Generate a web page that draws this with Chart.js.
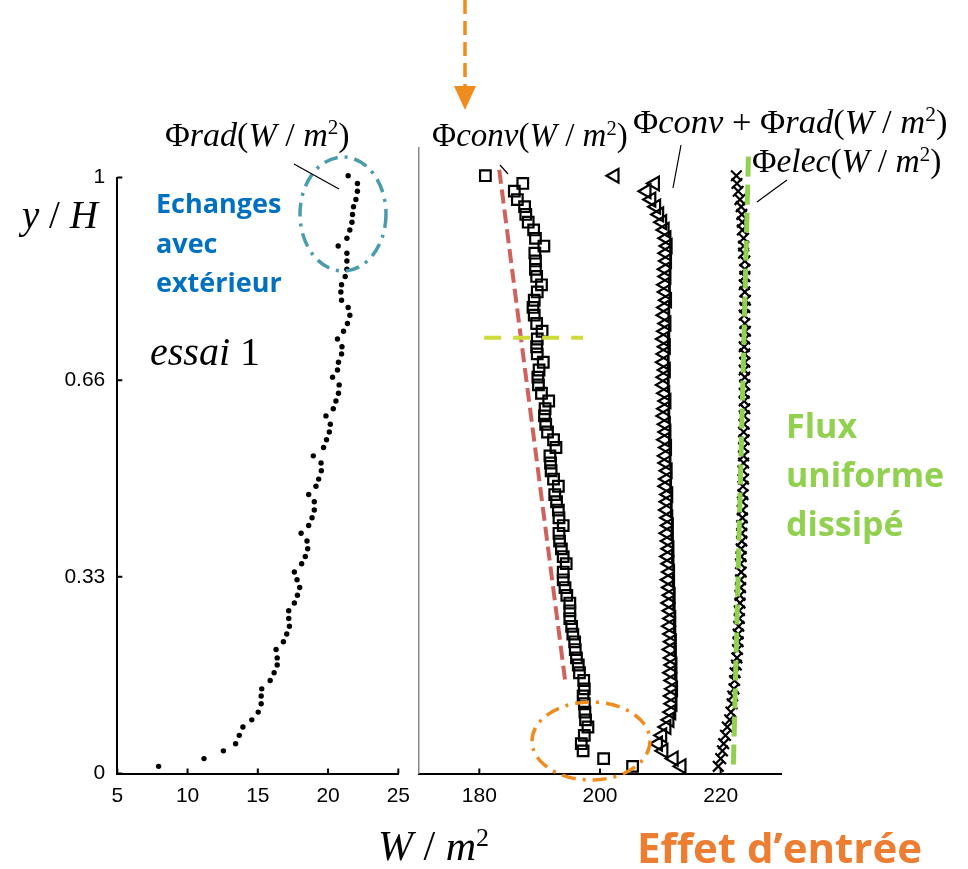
<!DOCTYPE html>
<html>
<head>
<meta charset="utf-8">
<script src="https://cdn.jsdelivr.net/npm/chart.js@4"></script>
<style>
  html, body { margin: 0; padding: 0; background: #fff; }
  #wrap { position: relative; width: 968px; height: 869px; overflow: hidden; background: #fff; }
  canvas.chart { position: absolute; top: 0; }
  #left { left: 0; }
  #right { left: 400px; }
  #marks { position: absolute; left: 0; top: 0; pointer-events: none; }
  .note { position: absolute; white-space: nowrap; line-height: 1; }
  .math { font-family: 'Liberation Serif', 'DejaVu Serif', serif; color: #000; }
  .math i { font-style: italic; }
  .math sup { font-size: 62%; vertical-align: 0; position: relative; top: -0.55em; }
  .callout { font-family: 'Open Sans', sans-serif; font-weight: 700; }
</style>
</head>
<body>
<div id="wrap">
  <canvas id="left" class="chart" width="420" height="869"></canvas>
  <canvas id="right" class="chart" width="568" height="869"></canvas>

  <svg id="marks" width="968" height="869">
    <!-- orange arrow at the top -->
    <line x1="465" y1="0" x2="465" y2="86" stroke="#f08c1e" stroke-width="3.5" stroke-dasharray="14 7"/>
    <polygon points="454,86 476,86 465,110" fill="#f08c1e"/>
    <!-- dash-dot ellipses -->
    <ellipse cx="343" cy="214" rx="43" ry="57" fill="none" stroke="#4a9cad" stroke-width="3.5" stroke-dasharray="14 7 3 7"/>
    <ellipse cx="591" cy="741" rx="59" ry="39" fill="none" stroke="#f08c1e" stroke-width="3.5" stroke-dasharray="14 7 3 7"/>
    <!-- leader lines -->
    <line x1="294" y1="164" x2="339" y2="189" stroke="#000" stroke-width="1.2"/>
    <line x1="500" y1="165" x2="508" y2="174" stroke="#000" stroke-width="1.2"/>
    <line x1="681" y1="145" x2="673" y2="188" stroke="#000" stroke-width="1.2"/>
    <line x1="787" y1="180" x2="757" y2="202" stroke="#000" stroke-width="1.2"/>
  </svg>

  <div class="note math" style="left:165px; top:118px; font-size:34px">Φ<i>rad</i>(<i>W</i> / <i>m</i><sup>2</sup>)</div>
  <div class="note math" style="left:432px; top:119px; font-size:33px">Φ<i>conv</i>(<i>W</i> / <i>m</i><sup>2</sup>)</div>
  <div class="note math" style="left:633px; top:104px; font-size:34.5px">Φ<i>conv</i> + Φ<i>rad</i>(<i>W</i> / <i>m</i><sup>2</sup>)</div>
  <div class="note math" style="left:752px; top:144px; font-size:33.5px">Φ<i>elec</i>(<i>W</i> / <i>m</i><sup>2</sup>)</div>
  <div class="note math" style="left:22px; top:195px; font-size:39px"><i>y</i> / <i>H</i></div>
  <div class="note math" style="left:150px; top:332px; font-size:40px"><i>essai</i> 1</div>
  <div class="note math" style="left:378px; top:825px; font-size:42px"><i>W</i> / <i>m</i><sup>2</sup></div>

  <div class="note callout" style="left:156px; top:183px; font-size:27px; line-height:39.5px; color:#0070c0">Echanges<br>avec<br>extérieur</div>
  <div class="note callout" style="left:786px; top:401px; font-size:34px; line-height:49px; color:#92d050">Flux<br>uniforme<br>dissipé</div>
  <div class="note callout" style="left:637px; top:826px; font-size:42px; color:#ed7d31">Effet d’entrée</div>
</div>

<script>
// measurement heights y/H (shared by every profile)
const yPos = [
  1.003, 0.990, 0.977, 0.963, 0.951, 0.938, 0.925, 0.912, 0.898, 0.885,
  0.873, 0.860, 0.846, 0.834, 0.820, 0.808, 0.794, 0.782, 0.769, 0.755,
  0.742, 0.729, 0.716, 0.704, 0.690, 0.677, 0.665, 0.652, 0.638, 0.625,
  0.612, 0.600, 0.586, 0.573, 0.560, 0.547, 0.533, 0.521, 0.508, 0.494,
  0.482, 0.468, 0.456, 0.442, 0.429, 0.416, 0.403, 0.390, 0.377, 0.364,
  0.352, 0.338, 0.325, 0.312, 0.299, 0.286, 0.273, 0.260, 0.247, 0.234,
  0.221, 0.208, 0.194, 0.182, 0.169, 0.156, 0.142, 0.130, 0.117, 0.103,
  0.090, 0.078, 0.064, 0.050, 0.038, 0.025, 0.012,
];

// Φrad (W/m2)
const radX = [
  21.43, 22.09, 22.09, 21.98, 21.81, 21.74, 21.70, 21.55, 21.34, 20.72,
  21.34, 21.34, 21.34, 21.22, 20.96, 20.91, 20.96, 21.43, 21.55, 21.38,
  21.10, 20.67, 20.99, 20.96, 20.74, 20.67, 20.32, 20.79, 20.74, 20.56,
  20.37, 19.85, 20.16, 20.09, 19.89, 19.68, 18.95, 19.50, 19.52, 19.33,
  19.14, 18.62, 19.02, 19.02, 18.86, 18.62, 18.08, 18.50, 18.55, 18.38,
  18.12, 17.60, 17.79, 17.98, 17.82, 17.60, 17.20, 17.20, 17.25, 17.06,
  16.82, 16.30, 16.38, 16.38, 16.16, 15.88, 15.28, 15.24, 15.24, 15.03,
  14.57, 13.94, 13.68, 13.42, 12.55, 11.17, 7.94,
];

// Φconv (W/m2)
const convX = [
  181.0, 187.2, 185.8, 186.3, 187.5, 187.7, 188.1, 189.0, 189.3, 190.7,
  189.2, 189.3, 189.3, 189.5, 190.3, 189.6, 189.1, 188.9, 189.1, 189.5,
  190.4, 189.6, 189.5, 189.6, 190.6, 189.9, 189.7, 189.8, 190.3, 191.5,
  190.9, 190.8, 191.0, 191.3, 192.3, 192.7, 191.7, 191.8, 191.9, 192.3,
  193.1, 192.5, 192.8, 193.1, 193.2, 193.9, 193.2, 193.3, 193.6, 193.9,
  194.4, 193.9, 193.9, 194.2, 194.5, 195.0, 195.0, 195.0, 195.3, 195.5,
  195.8, 195.9, 196.1, 196.4, 196.6, 197.3, 197.4, 197.2, 197.4, 197.5,
  197.6, 198.0, 197.4, 196.9, 197.2, 200.6, 205.4,
];

// Φconv + Φrad (W/m2)
const sumX = [
  202.4, 209.1, 207.7, 208.5, 209.3, 209.8, 210.3, 210.7, 211.0, 211.2,
  211.0, 211.1, 210.9, 211.0, 210.8, 210.9, 211.1, 210.8, 210.7, 211.0,
  210.8, 210.6, 210.9, 210.7, 210.6, 210.9, 210.7, 210.6, 210.8, 211.0,
  210.8, 210.7, 210.9, 211.0, 210.8, 211.1, 210.9, 211.0, 211.2, 211.1,
  211.0, 211.3, 211.2, 211.1, 211.3, 211.4, 211.2, 211.4, 211.5, 211.3,
  211.5, 211.6, 211.4, 211.6, 211.7, 211.5, 211.7, 211.8, 211.6, 211.8,
  211.9, 211.7, 211.9, 212.0, 211.8, 212.0, 212.1, 211.9, 212.0, 211.8,
  211.5, 211.0, 210.3, 209.6, 210.5, 212.2, 213.5,
];

// Φelec (W/m2)
const elecX = [
  222.6, 222.7, 222.9, 223.2, 223.4, 223.5, 223.6, 223.6, 223.8, 223.8,
  223.8, 224.0, 224.0, 224.0, 223.9, 224.0, 224.1, 224.0, 223.9, 224.0,
  224.1, 224.0, 223.9, 224.0, 224.0, 223.9, 224.0, 224.0, 223.9, 223.9,
  224.0, 223.9, 223.9, 223.8, 223.9, 223.8, 223.8, 223.8, 223.7, 223.8,
  223.7, 223.7, 223.6, 223.6, 223.6, 223.5, 223.5, 223.5, 223.4, 223.4,
  223.3, 223.4, 223.3, 223.3, 223.2, 223.2, 223.1, 223.1, 223.0, 222.9,
  222.9, 222.8, 222.7, 222.6, 222.4, 222.3, 222.2, 222.0, 221.9, 221.7,
  221.5, 221.1, 220.8, 220.5, 220.3, 220.0, 219.6,
];

// guide lines drawn on the right panel
const convTrendX = [183.3, 194.3];
const convTrendY = [1.013, 0.150];
const levelX = [180.8, 197.2];
const levelY = [0.731, 0.731];
const elecLineX = [224.6, 222.1];
const elecLineY = [1.035, 0.011];

// ticks
const leftXTicks = [5, 10, 15, 20, 25];
const rightXTicks = [180, 200, 220];
const yTicks = [0, 0.33, 0.66, 1];

const pts = (xs, ys) => xs.map((x, i) => ({ x: x, y: ys[i] }));

const tickFont = { family: 'Liberation Sans', size: 21 };

// MATLAB style: tick marks point into the plot
const inwardTicks = {
  id: 'inwardTicks',
  afterDraw(chart, args, opts) {
    const ctx = chart.ctx;
    const area = chart.chartArea;
    const len = 5;
    ctx.save();
    ctx.strokeStyle = '#000';
    ctx.lineWidth = 2;
    ctx.beginPath();
    if (opts.x) {
      const sx = chart.scales.x;
      sx.ticks.forEach(t => {
        const px = sx.getPixelForValue(t.value);
        ctx.moveTo(px, area.bottom);
        ctx.lineTo(px, area.bottom - len);
      });
    }
    if (opts.y) {
      const sy = chart.scales.y;
      sy.ticks.forEach(t => {
        const py = sy.getPixelForValue(t.value);
        ctx.moveTo(area.left, py);
        ctx.lineTo(area.left + len, py);
      });
    }
    ctx.stroke();
    ctx.restore();
  },
};

const leftChart = new Chart(document.getElementById('left'), {
  type: 'scatter',
  data: {
    datasets: [{
      data: pts(radX, yPos),
      pointRadius: 2.7,
      pointBackgroundColor: '#000',
      pointBorderWidth: 0,
      clip: false,
    }],
  },
  options: {
    responsive: false,
    animation: false,
    events: [],
    layout: { padding: { left: 0, top: 177.5, right: 20.7, bottom: 55.5 } },
    plugins: {
      legend: { display: false },
      tooltip: { enabled: false },
      inwardTicks: { x: true, y: true },
    },
    scales: {
      x: {
        type: 'linear', min: 5, max: 25,
        afterBuildTicks: s => { s.ticks = leftXTicks.map(v => ({ value: v })); },
        afterFit: s => { s.height = 40; },
        grid: { display: false, drawTicks: false },
        border: { color: '#000', width: 2 },
        ticks: { font: tickFont, color: '#000', padding: 10, maxRotation: 0, autoSkip: false },
      },
      y: {
        type: 'linear', min: 0, max: 1,
        afterBuildTicks: s => { s.ticks = yTicks.map(v => ({ value: v })); },
        afterFit: s => { s.width = 117.3; },
        grid: { display: false, drawTicks: false },
        border: { color: '#000', width: 2 },
        ticks: { font: tickFont, color: '#000', padding: 12, autoSkip: false, callback: v => String(v) },
      },
    },
  },
  plugins: [inwardTicks],
});

const rightChart = new Chart(document.getElementById('right'), {
  type: 'scatter',
  data: {
    datasets: [
      {
        label: 'conv trend',
        data: pts(convTrendX, convTrendY),
        showLine: true, pointRadius: 0,
        borderColor: '#cf625d', borderWidth: 4, borderDash: [14, 6],
        clip: false, order: 1,
      },
      {
        label: 'level',
        data: pts(levelX, levelY),
        showLine: true, pointRadius: 0,
        borderColor: '#cddc39', borderWidth: 4, borderDash: [17, 12],
        clip: false, order: 0,
      },
      {
        label: 'elec uniform',
        data: pts(elecLineX, elecLineY),
        showLine: true, pointRadius: 0,
        borderColor: '#92d050', borderWidth: 5, borderDash: [20, 8],
        clip: false, order: 0,
      },
      {
        label: 'Φconv',
        data: pts(convX, yPos),
        pointStyle: 'rect', pointRadius: 7.5,
        pointBorderColor: '#000', pointBorderWidth: 2.2,
        pointBackgroundColor: 'rgba(0,0,0,0)',
        clip: false, order: 3,
      },
      {
        label: 'Φconv + Φrad',
        data: pts(sumX, yPos),
        pointStyle: 'triangle', rotation: -90, pointRadius: 8,
        pointBorderColor: '#000', pointBorderWidth: 2.2,
        pointBackgroundColor: 'rgba(0,0,0,0)',
        clip: false, order: 3,
      },
      {
        label: 'Φelec',
        data: pts(elecX, yPos),
        pointStyle: 'crossRot', pointRadius: 7.5,
        pointBorderColor: '#000', pointBorderWidth: 2.2,
        clip: false, order: 3,
      },
    ],
  },
  options: {
    responsive: false,
    animation: false,
    events: [],
    layout: { padding: { left: 19, top: 147.7, right: 187, bottom: 55.5 } },
    plugins: {
      legend: { display: false },
      tooltip: { enabled: false },
      inwardTicks: { x: true, y: false },
    },
    scales: {
      x: {
        type: 'linear', min: 170, max: 230,
        afterBuildTicks: s => { s.ticks = rightXTicks.map(v => ({ value: v })); },
        afterFit: s => { s.height = 40; },
        grid: { display: false, drawTicks: false },
        border: { color: '#000', width: 2 },
        ticks: { font: tickFont, color: '#000', padding: 10, maxRotation: 0, autoSkip: false },
      },
      y: {
        type: 'linear', min: 0, max: 1.05,
        afterFit: s => { s.width = 0; },
        grid: { display: false, drawTicks: false },
        border: { color: '#888', width: 1.5, dash: [10, 5] },
        ticks: { display: false },
      },
    },
  },
  plugins: [inwardTicks],
});
</script>
</body>
</html>
